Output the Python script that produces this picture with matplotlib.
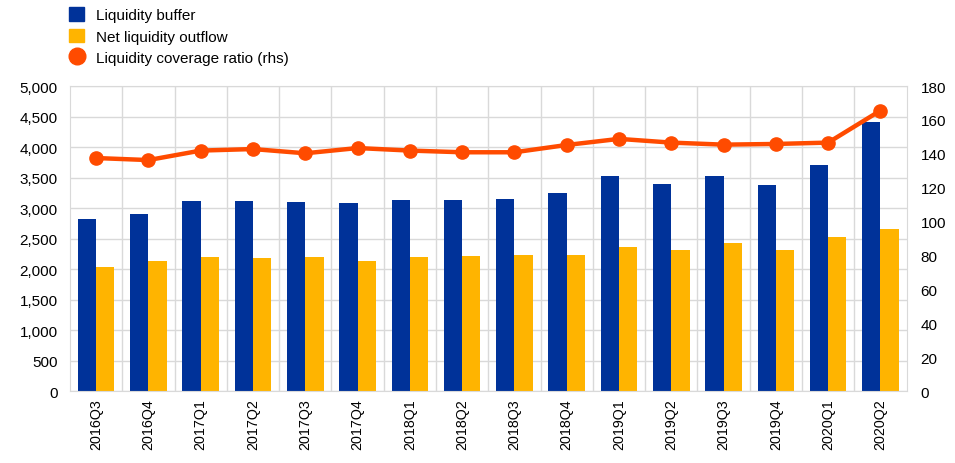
import matplotlib
matplotlib.use("Agg")
import matplotlib.pyplot as plt
from matplotlib.lines import Line2D
from matplotlib.patches import Patch
import numpy as np

quarters = ["2016Q3", "2016Q4", "2017Q1", "2017Q2", "2017Q3", "2017Q4",
            "2018Q1", "2018Q2", "2018Q3", "2018Q4", "2019Q1", "2019Q2",
            "2019Q3", "2019Q4", "2020Q1", "2020Q2"]
buffer = [2815, 2895, 3110, 3110, 3095, 3080, 3128, 3135, 3155, 3250,
          3530, 3390, 3530, 3385, 3710, 4415]
outflow = [2040, 2125, 2190, 2175, 2200, 2140, 2200, 2220, 2235, 2235,
           2365, 2305, 2425, 2310, 2525, 2660]
lcr = [137.5, 136.3, 141.9, 142.8, 140.3, 143.4, 141.9, 140.9, 140.9, 145.2,
       148.8, 146.6, 145.4, 145.8, 146.6, 165.5]

BLUE = "#003299"
YELLOW = "#FFB400"
ORANGE = "#FF4B00"
GRID = "#d9d9d9"

plt.rcParams["font.family"] = ["Liberation Sans", "DejaVu Sans"]
plt.rcParams["font.size"] = 11

fig = plt.figure(figsize=(9.55, 4.64), dpi=100)
ax = fig.add_axes([0.0733, 0.155, 0.876, 0.6575])
x = np.arange(len(quarters))
w = 0.35

ax.bar(x - w / 2, buffer, w, color=BLUE, zorder=2)
ax.bar(x + w / 2, outflow, w, color=YELLOW, zorder=2)

ax.set_xlim(-0.5, len(quarters) - 0.5)
ax.set_ylim(0, 5000)
ax.set_yticks(range(0, 5001, 500))
ax.set_yticklabels([f"{v:,}" for v in range(0, 5001, 500)])
ax.set_xticks(x)
ax.set_xticklabels(quarters, rotation=90, fontsize=10.3)
ax.set_xticks(np.arange(0.5, len(quarters) - 1, 1), minor=True)
ax.grid(axis="y", color=GRID, lw=1, zorder=0)
ax.grid(axis="x", which="minor", color=GRID, lw=1, zorder=0)
ax.tick_params(which="both", length=0)
ax.tick_params(axis="x", pad=5)
ax.tick_params(axis="y", pad=9)
for s in ax.spines.values():
    s.set_color(GRID)

ax2 = ax.twinx()
ax2.plot(x, lcr, color=ORANGE, lw=3.2, marker="o", ms=9.5, zorder=3)
ax2.set_ylim(0, 180)
ax2.set_yticks(range(0, 181, 20))
ax2.tick_params(length=0, pad=10)
for s in ax2.spines.values():
    s.set_visible(False)

handles = [
    Patch(color=BLUE, label="Liquidity buffer"),
    Patch(color=YELLOW, label="Net liquidity outflow"),
    Line2D([], [], color=ORANGE, marker="o", ls="none", ms=12,
           label="Liquidity coverage ratio (rhs)"),
]
fig.legend(handles=handles, loc="upper left", bbox_to_anchor=(0.058, 1.012),
           frameon=False, handlelength=1.0, handleheight=1.0,
           handletextpad=0.75, labelspacing=0.42, fontsize=11)

fig.savefig("out.png", dpi=100)
